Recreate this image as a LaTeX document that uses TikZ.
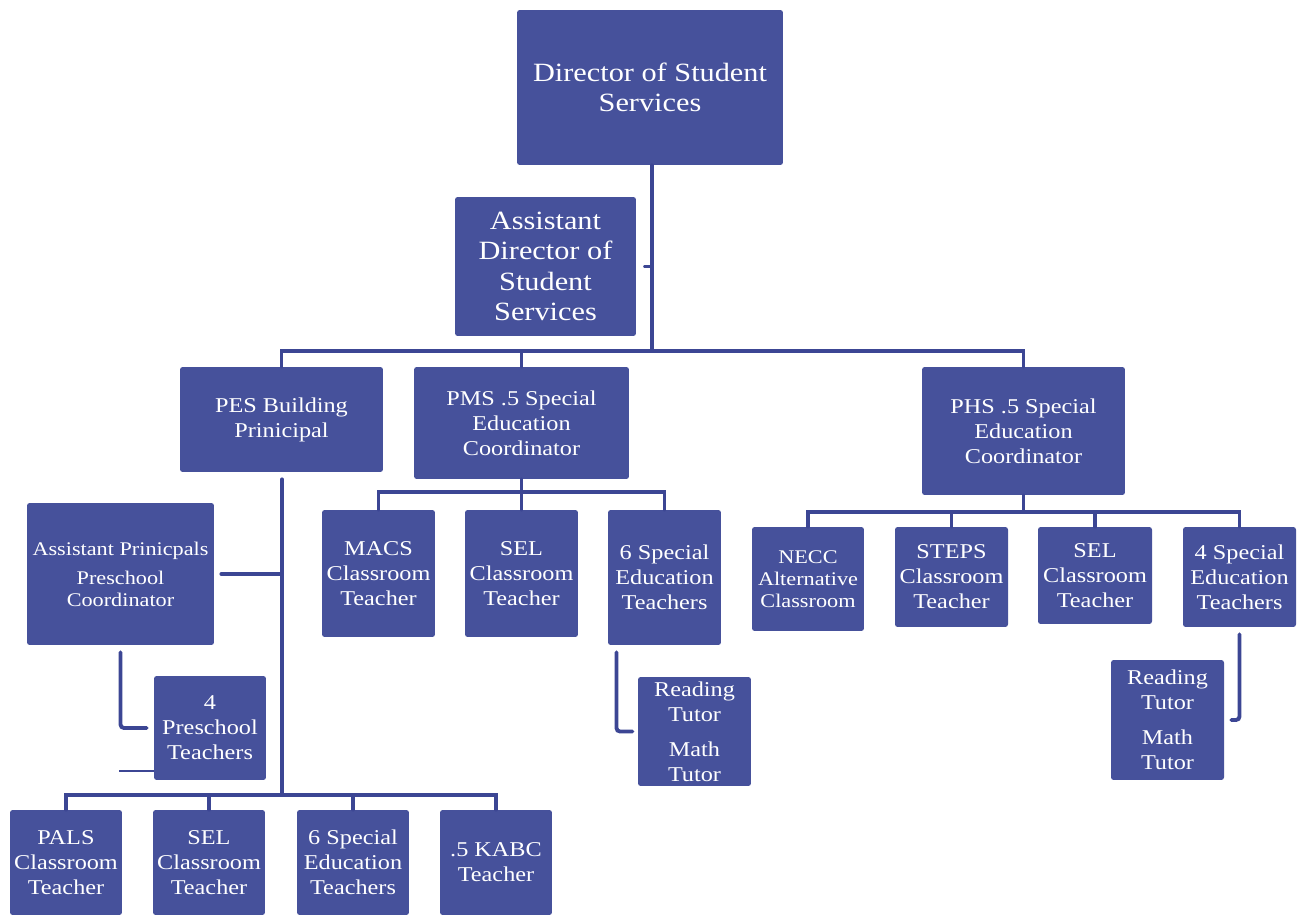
\documentclass[tikz,border=0pt]{standalone}
\usepackage{fontspec}
\setmainfont[FakeStretch=1.15]{Liberation Serif}
\definecolor{orgblue}{RGB}{70,81,155}
\definecolor{linkblue}{RGB}{60,70,148}
\tikzset{
  unit/.style={fill=orgblue, text=white, align=center, inner sep=0pt, rounded corners=1.5pt},
  big text/.style={font=\fontsize{15}{17.2}\selectfont},
  mid text/.style={font=\fontsize{12}{14.2}\selectfont},
  small text/.style={font=\fontsize{11}{12.5}\selectfont},
  link/.style={draw=linkblue, line width=2.2pt, line cap=round},
  thin link/.style={draw=linkblue, line width=1.2pt},
}
\begin{document}
\begin{tikzpicture}[x=0.02cm, y=-0.02cm]
\useasboundingbox (0,0) rectangle (1305,918);

% top levels
\node[unit, big text, minimum width=5.32cm, minimum height=3.10cm] (dir) at (650,87.5) {Director of Student\\Services};
\node[unit, big text, minimum width=3.62cm, minimum height=2.78cm] (ad) at (545.5,266.5) {Assistant\\Director of\\Student\\Services};

\node[unit, mid text, minimum width=4.06cm, minimum height=2.10cm] (pes) at (281.5,419.5) {PES Building\\Prinicipal};
\node[unit, mid text, minimum width=4.30cm, minimum height=2.24cm] (pms) at (521.5,423) {PMS .5 Special\\Education\\Coordinator};
\node[unit, mid text, minimum width=4.06cm, minimum height=2.56cm] (phs) at (1023.5,431) {PHS .5 Special\\Education\\Coordinator};

% PES branch
\node[unit, small text, minimum width=3.74cm, minimum height=2.84cm] (ap) at (120.5,574) {Assistant Prinicpals\\[4pt]Preschool\\Coordinator};
\node[unit, mid text, minimum width=2.24cm, minimum height=2.08cm] (ps) at (210,728) {4\\Preschool\\Teachers};
\node[unit, mid text, minimum width=2.24cm, minimum height=2.10cm] (pals) at (66,862.5) {PALS\\Classroom\\Teacher};
\node[unit, mid text, minimum width=2.24cm, minimum height=2.10cm] (sel1) at (209,862.5) {SEL\\Classroom\\Teacher};
\node[unit, mid text, minimum width=2.24cm, minimum height=2.10cm] (spec1) at (353,862.5) {6 Special\\Education\\Teachers};
\node[unit, mid text, minimum width=2.24cm, minimum height=2.10cm] (kabc) at (496,862.5) {.5 KABC\\Teacher};

% PMS branch
\node[unit, mid text, minimum width=2.26cm, minimum height=2.54cm] (macs) at (378.5,573.5) {MACS\\Classroom\\Teacher};
\node[unit, mid text, minimum width=2.26cm, minimum height=2.54cm] (sel2) at (521.5,573.5) {SEL\\Classroom\\Teacher};
\node[unit, mid text, minimum width=2.26cm, minimum height=2.70cm] (spec2) at (664.5,577.5) {6 Special\\Education\\Teachers};
\node[unit, mid text, minimum width=2.26cm, minimum height=2.18cm] (tut1) at (694.5,731.5) {Reading\\Tutor\\[5.7pt]Math\\Tutor};

% PHS branch
\node[unit, small text, minimum width=2.24cm, minimum height=2.08cm] (necc) at (808,579) {NECC\\Alternative\\Classroom};
\node[unit, mid text, minimum width=2.26cm, minimum height=2.00cm] (steps) at (951.5,577) {STEPS\\Classroom\\Teacher};
\node[unit, mid text, minimum width=2.28cm, minimum height=1.94cm] (sel3) at (1095,575.5) {SEL\\Classroom\\Teacher};
\node[unit, mid text, minimum width=2.26cm, minimum height=2.00cm] (spec3) at (1239.5,577) {4 Special\\Education\\Teachers};
\node[unit, mid text, minimum width=2.26cm, minimum height=2.40cm] (tut2) at (1167.5,720) {Reading\\Tutor\\[5.7pt]Math\\Tutor};

% bars
\coordinate (tbar) at (652,351);
\coordinate (pbar) at (282,795);
\coordinate (mbar) at (521.5,492);
\coordinate (hbar) at (1023.5,512);
\coordinate (psfree) at (119,771);

\path[link] (dir.south -| tbar) -- (tbar);
\path[link] (ad.east -| tbar) -- ([xshift=5pt]ad.east);
\path[link] (pes.north) |- (tbar) -| (phs.north);
\path[link] (pms.north) -- (pms.north |- tbar);

\path[link] ([yshift=-4pt]pes.south -| pbar) -- (pbar);
\path[link] ([xshift=4pt]ap.east) -- (ap.east -| pbar);
\path[link, rounded corners=2pt] ([yshift=-4pt]ap.south) |- ([xshift=-4pt]ps.west);
\path[thin link] (psfree) -- (psfree -| ps.west);
\path[link] (pals.north) |- (pbar) -| (kabc.north);
\path[link] (sel1.north) -- (sel1.north |- pbar);
\path[link] (spec1.north) -- (spec1.north |- pbar);

\path[link] (pms.south) -- (mbar);
\path[link] (macs.north) |- (mbar) -| (spec2.north);
\path[link] (sel2.north) -- (sel2.north |- mbar);
\path[link, rounded corners=2pt] ([xshift=5pt,yshift=-4pt]spec2.south west) |- ([xshift=-3pt]tut1.west);

\path[link] (phs.south) -- (hbar);
\path[link] (necc.north) |- (hbar) -| (spec3.north);
\path[link] (steps.north) -- (steps.north |- hbar);
\path[link] (sel3.north) -- (sel3.north |- hbar);
\path[link, rounded corners=2pt] ([yshift=-4pt]spec3.south) |- ([xshift=4pt]tut2.east);
\end{tikzpicture}
\end{document}
